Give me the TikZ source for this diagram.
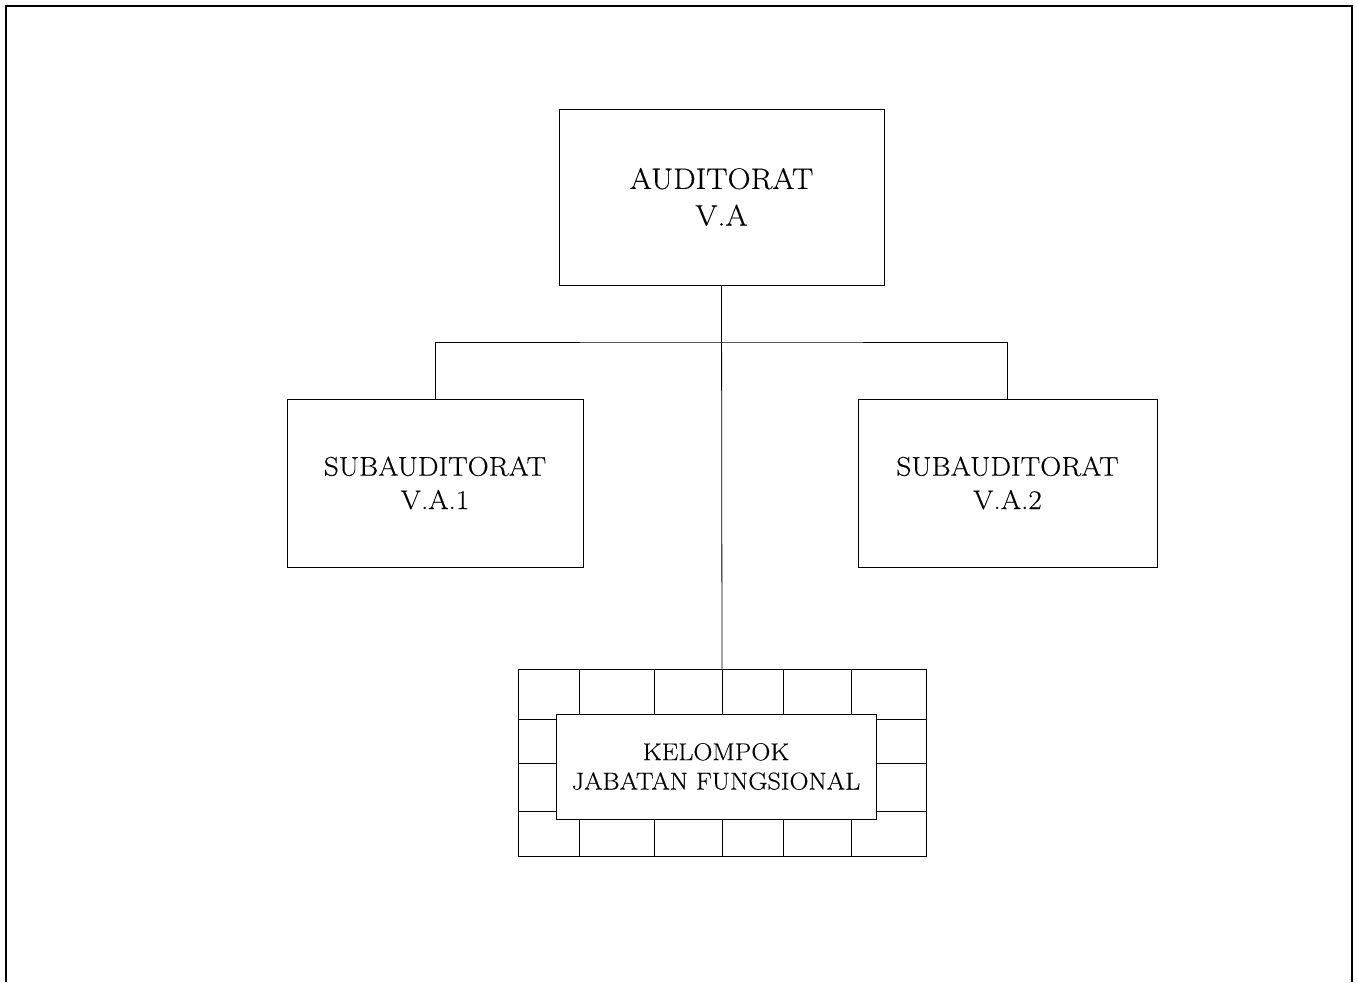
\documentclass[tikz,border=0pt]{standalone}
\usepackage{fontspec}
\setmainfont{Latin Modern Roman}[FakeStretch=1.08, FakeBold=0.3]
\begin{document}
\begin{tikzpicture}[x=0.75pt,y=-0.75pt,
  unitbox/.style={draw, line width=0.6pt, align=center, inner sep=0pt, fill=white},
  link/.style={line width=0.6pt},
  bigtext/.style={font=\fontsize{22.2}{27.5}\selectfont},
  midtext/.style={font=\fontsize{20.3}{25}\selectfont},
  smalltext/.style={font=\fontsize{18.3}{22}\selectfont}]
\useasboundingbox (0,0) rectangle (1358,982);
\fill[white] (0,0) rectangle (1358,982);
% page frame, open at the bottom
\draw[line width=1.2pt] (6,982) -- (6,6) -- (1352,6) -- (1352,982);

% head of the unit
\node[unitbox, bigtext, minimum width=243.75pt, minimum height=132pt]
  (auditorat) at (721.5,197) {AUDITORAT\\V.A};

% sub-units
\node[unitbox, midtext, minimum width=222pt, minimum height=126pt]
  (sub1) at (435,483) {SUBAUDITORAT\\V.A.1};
\node[unitbox, midtext, minimum width=224.25pt, minimum height=126pt]
  (sub2) at (1007.5,483) {SUBAUDITORAT\\V.A.2};

% functional group: brick frame with a label box on top
\node[draw, line width=0.6pt, minimum width=306pt, minimum height=140.25pt, inner sep=0pt]
  (grid) at (722,762.5) {};
\foreach \gx in {579,654,722,783,851}
  \draw[link] (\gx,669) -- (\gx,856);
\foreach \gy in {719,763,811}
  \draw[link] (518,\gy) -- (926,\gy);
\node[unitbox, smalltext, minimum width=240pt, minimum height=78.75pt]
  (jafung) at (716,766.5) {KELOMPOK\\JABATAN FUNGSIONAL};

% connectors
\coordinate (bar) at (722,342);
\draw[link] (auditorat.south) -- (grid.north);
\draw[link] (sub1.north) |- (bar) -| (sub2.north);
\end{tikzpicture}
\end{document}
